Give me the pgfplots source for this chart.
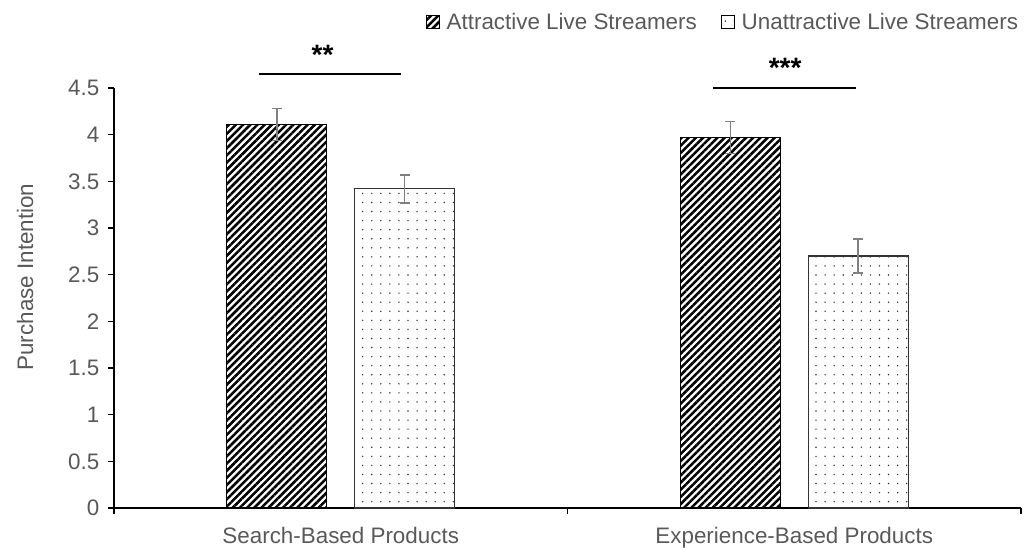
\documentclass[border=0pt]{standalone}
\usepackage{fontspec}
\setmainfont{Liberation Sans}
\usepackage{pgfplots}
\pgfplotsset{compat=1.18}
\usetikzlibrary{patterns.meta}
\definecolor{txt}{RGB}{89,89,89}
\definecolor{errc}{RGB}{128,128,128}
\begin{document}
\begin{tikzpicture}[font=\fontsize{16.8pt}{19pt}\selectfont]
\path[use as bounding box] (-85.5pt,-29.25pt) rectangle (684pt,381pt);
\begin{axis}[
  scale only axis,
  width=680.25pt, height=315pt,
  at={(0,0)}, anchor=south west,
  ybar, clip=false,
  xmin=-0.5, xmax=1.5,
  ymin=0, ymax=4.5,
  ytick={0,0.5,1,1.5,2,2.5,3,3.5,4,4.5},
  yticklabels={0,0.5,1,1.5,2,2.5,3,3.5,4,4.5},
  xtick={-0.5,0.5,1.5}, xticklabels={},
  extra x ticks={0,1},
  extra x tick labels={Search-Based Products, Experience-Based Products},
  extra x tick style={major tick length=0pt, xticklabel style={yshift=-11pt}},
  axis x line*=bottom, axis y line*=left,
  axis line style={-, black, line width=0.8pt},
  tick align=outside, major tick length=4.5pt,
  tick style={black, line width=0.8pt},
  ticklabel style={text=txt},
  yticklabel style={xshift=-3pt},
  ylabel={Purchase Intention},
  ylabel style={at={(axis description cs:-0.098,0.55)}, anchor=center, text=txt},
  legend style={at={(1,1.157)}, anchor=east, draw=none, fill=none, inner sep=0pt,
    text=txt, legend columns=2,
    /tikz/every odd column/.append style={column sep=3pt},
    /tikz/every even column/.append style={column sep=16pt}},
  legend image code/.code={\draw[#1, draw=black, line width=0.6pt] (0pt,-5pt) rectangle (10pt,5pt);},
  error bars/y dir=both, error bars/y explicit,
  error bars/error bar style={errc, line width=1.1pt},
  error bars/error mark options={rotate=90, errc, mark size=3.75pt, line width=1.1pt},
]
\addplot[draw=black, line width=0.8pt, bar width=0.22, bar shift=-0.141,
  pattern={Lines[angle=45, distance=3.8pt, line width=1.9pt]}, pattern color=black]
  coordinates {(0,4.11) +- (0,0.17) (1,3.97) +- (0,0.17)};
\addlegendentry{Attractive Live Streamers}
\addplot[draw=black!80, line width=0.8pt, bar width=0.22, bar shift=0.141,
  pattern={Dots[distance=6.8pt, radius=0.6pt]}, pattern color=black!80]
  coordinates {(0,3.42) +- (0,0.15) (1,2.70) +- (0,0.18)};
\addlegendentry{Unattractive Live Streamers}
\draw[line width=1.5pt] (axis cs:-0.18,4.65) -- (axis cs:0.133,4.65);
\node[font=\fontsize{21pt}{24pt}\selectfont\bfseries] at (axis cs:-0.04,4.86) {**};
\draw[line width=1.5pt] (axis cs:0.821,4.5) -- (axis cs:1.136,4.5);
\node[font=\fontsize{21pt}{24pt}\selectfont\bfseries] at (axis cs:0.98,4.72) {***};
\end{axis}
\end{tikzpicture}
\end{document}
